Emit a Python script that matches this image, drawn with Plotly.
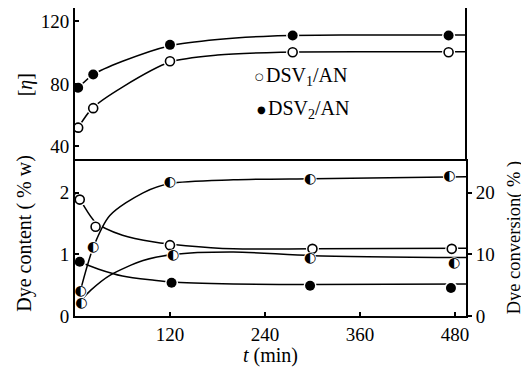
import plotly.graph_objects as go

# ---------------- data ----------------
# top panel: intrinsic viscosity [eta]
t_eta = [4, 23, 120, 275, 472]
eta_dsv1 = [52, 64.5, 94.5, 100.3, 100.3]
eta_dsv2 = [77.5, 86, 105, 111, 111]
# drawn smooth curves (top)
t_eta1_curve = [4, 22, 60, 120, 180, 260, 380, 494]
eta1_curve = [52, 64.5, 78, 94, 98.5, 100.3, 100.6, 100.6]
t_eta2_curve = [4, 23, 60, 120, 180, 250, 350, 494]
eta2_curve = [77.5, 86, 94.5, 104.5, 108.5, 110.7, 111.3, 111.3]

# bottom panel: dye content (%w, left axis)
t_cont1 = [6, 26, 120, 300, 476]
cont_dsv1 = [1.89, 1.45, 1.15, 1.09, 1.09]
t_cont2 = [6, 122, 297, 475]
cont_dsv2 = [0.88, 0.54, 0.49, 0.455]
# dye conversion (%, right axis)
t_conv1 = [7, 23, 120, 297, 473]
conv_dsv1 = [3.9, 11.1, 21.7, 22.2, 22.6]
t_conv2 = [8, 124, 297, 479]
conv_dsv2 = [2.05, 9.8, 9.3, 8.5]
# drawn smooth curves (bottom)
t_cont1_curve = [0, 6, 26, 60, 100, 140, 200, 300, 494]
cont1_curve = [1.97, 1.89, 1.52, 1.31, 1.2, 1.14, 1.09, 1.09, 1.1]
t_cont2_curve = [0, 6, 30, 60, 100, 122, 200, 300, 494]
cont2_curve = [0.92, 0.88, 0.76, 0.65, 0.58, 0.55, 0.52, 0.51, 0.52]
t_conv1_curve = [2, 7, 23, 44, 86, 120, 200, 300, 494]
conv1_curve = [1.5, 4.2, 11.1, 16.3, 20.0, 21.5, 22.1, 22.3, 22.6]
t_conv2_curve = [8, 20, 44, 86, 124, 200, 300, 494]
conv2_curve = [2.6, 4.2, 6.6, 9.0, 10.0, 10.4, 9.8, 9.5]

x_ticks = [120, 240, 360, 480]
eta_ticks = [40, 80, 120]
cont_ticks = [0, 1, 2]
conv_ticks = [0, 10, 20]

legend_names = ["DSV<sub>1</sub>/AN", "DSV<sub>2</sub>/AN"]

SERIF = "Liberation Serif"
LINE = dict(color="black", width=1.5, shape="spline", smoothing=0.8)

fig = go.Figure()

# ---- curves ----
fig.add_trace(go.Scatter(x=t_eta1_curve, y=eta1_curve, mode="lines", line=LINE,
                         xaxis="x2", yaxis="y2", showlegend=False, hoverinfo="skip"))
fig.add_trace(go.Scatter(x=t_eta2_curve, y=eta2_curve, mode="lines", line=LINE,
                         xaxis="x2", yaxis="y2", showlegend=False, hoverinfo="skip"))
fig.add_trace(go.Scatter(x=t_cont1_curve, y=cont1_curve, mode="lines", line=LINE,
                         xaxis="x", yaxis="y", showlegend=False, hoverinfo="skip"))
fig.add_trace(go.Scatter(x=t_cont2_curve, y=cont2_curve, mode="lines", line=LINE,
                         xaxis="x", yaxis="y", showlegend=False, hoverinfo="skip"))
fig.add_trace(go.Scatter(x=t_conv1_curve, y=conv1_curve, mode="lines", line=LINE,
                         xaxis="x", yaxis="y3", showlegend=False, hoverinfo="skip"))
fig.add_trace(go.Scatter(x=t_conv2_curve, y=conv2_curve, mode="lines", line=LINE,
                         xaxis="x", yaxis="y3", showlegend=False, hoverinfo="skip"))

# ---- white halos (gaps in the curves around the points) ----
HALO = dict(symbol="circle", size=13, color="white", line=dict(width=0))
for xs, ys, xa, ya in [(t_eta, eta_dsv1, "x2", "y2"), (t_eta, eta_dsv2, "x2", "y2"),
                       (t_cont1, cont_dsv1, "x", "y"), (t_cont2, cont_dsv2, "x", "y"),
                       (t_conv1, conv_dsv1, "x", "y3"), (t_conv2, conv_dsv2, "x", "y3")]:
    fig.add_trace(go.Scatter(x=xs, y=ys, mode="markers", marker=HALO, xaxis=xa, yaxis=ya,
                             showlegend=False, hoverinfo="skip"))

OPEN = dict(symbol="circle", size=9, color="white", line=dict(color="black", width=1.6))
FILLED = dict(symbol="circle", size=10, color="black", line=dict(color="black", width=0))

# ---- points ----
fig.add_trace(go.Scatter(x=t_eta, y=eta_dsv1, mode="markers", marker=OPEN,
                         xaxis="x2", yaxis="y2", name=legend_names[0], showlegend=False))
fig.add_trace(go.Scatter(x=t_eta, y=eta_dsv2, mode="markers", marker=FILLED,
                         xaxis="x2", yaxis="y2", name=legend_names[1], showlegend=False))
fig.add_trace(go.Scatter(x=t_cont1, y=cont_dsv1, mode="markers", marker=OPEN,
                         xaxis="x", yaxis="y", showlegend=False))
fig.add_trace(go.Scatter(x=t_cont2, y=cont_dsv2, mode="markers", marker=FILLED,
                         xaxis="x", yaxis="y", showlegend=False))
HALF = dict(family="DejaVu Sans", size=14, color="black")
fig.add_trace(go.Scatter(x=t_conv1, y=conv_dsv1, mode="text", text=["◐"] * len(t_conv1),
                         textposition="middle center", textfont=HALF,
                         xaxis="x", yaxis="y3", showlegend=False))
fig.add_trace(go.Scatter(x=t_conv2, y=conv_dsv2, mode="text", text=["◐"] * len(t_conv2),
                         textposition="middle center", textfont=HALF,
                         xaxis="x", yaxis="y3", showlegend=False))

AX = dict(showline=True, linecolor="black", linewidth=2, showgrid=False, zeroline=False,
          ticks="inside", ticklen=4, tickcolor="black", tickwidth=1.5,
          tickfont=dict(family=SERIF, size=19, color="black"))

SPLIT = 0.51

def ann(text, x, y, size=20, angle=0, xanchor="center", family=SERIF):
    return dict(text=text, xref="paper", yref="paper", x=x, y=y, textangle=angle,
                xanchor=xanchor, yanchor="middle", showarrow=False,
                font=dict(family=family, size=size, color="black"))

fig.update_layout(
    width=521, height=364,
    margin=dict(l=67, r=63, t=0, b=56),
    paper_bgcolor="white", plot_bgcolor="white",
    font=dict(family=SERIF, size=18, color="black"),
    showlegend=False,
    xaxis=dict(AX, domain=[0, 1], range=[0, 494], tickvals=x_ticks, anchor="y"),
    xaxis2=dict(AX, domain=[0, 1], range=[0, 494], tickvals=x_ticks, showticklabels=False,
                ticks="", anchor="y2", matches="x"),
    yaxis=dict(AX, domain=[0, SPLIT], range=[0, 2.55], tickvals=cont_ticks, anchor="x"),
    yaxis2=dict(AX, domain=[SPLIT, 1], range=[32, 128.6], tickvals=eta_ticks, anchor="x2"),
    yaxis3=dict(AX, range=[0, 25.5], tickvals=conv_ticks, overlaying="y", side="right",
                anchor="x", ticks="outside"),
    shapes=[dict(type="line", xref="paper", yref="paper", x0=1, x1=1, y0=SPLIT, y1=1,
                 line=dict(color="black", width=2))],
    annotations=[
        ann("[<i>η</i>]", -0.128, 0.752, size=20, angle=-90),
        ann("Dye content ( % w)", -0.128, 0.27, size=20, angle=-90),
        ann("Dye conversion( % )", 1.125, 0.255, size=18.5, angle=-90),
        ann("<i>t</i> (min)", 0.499, -0.127, size=20),
        # legend
        ann("○", 0.473, 0.776, size=10, family="DejaVu Sans"),
        ann("●", 0.478, 0.669, size=10, family="DejaVu Sans"),
        ann(legend_names[0], 0.484, 0.776, size=20, xanchor="left"),
        ann(legend_names[1], 0.489, 0.669, size=20, xanchor="left"),
    ],
)

fig.write_html("out.html")
